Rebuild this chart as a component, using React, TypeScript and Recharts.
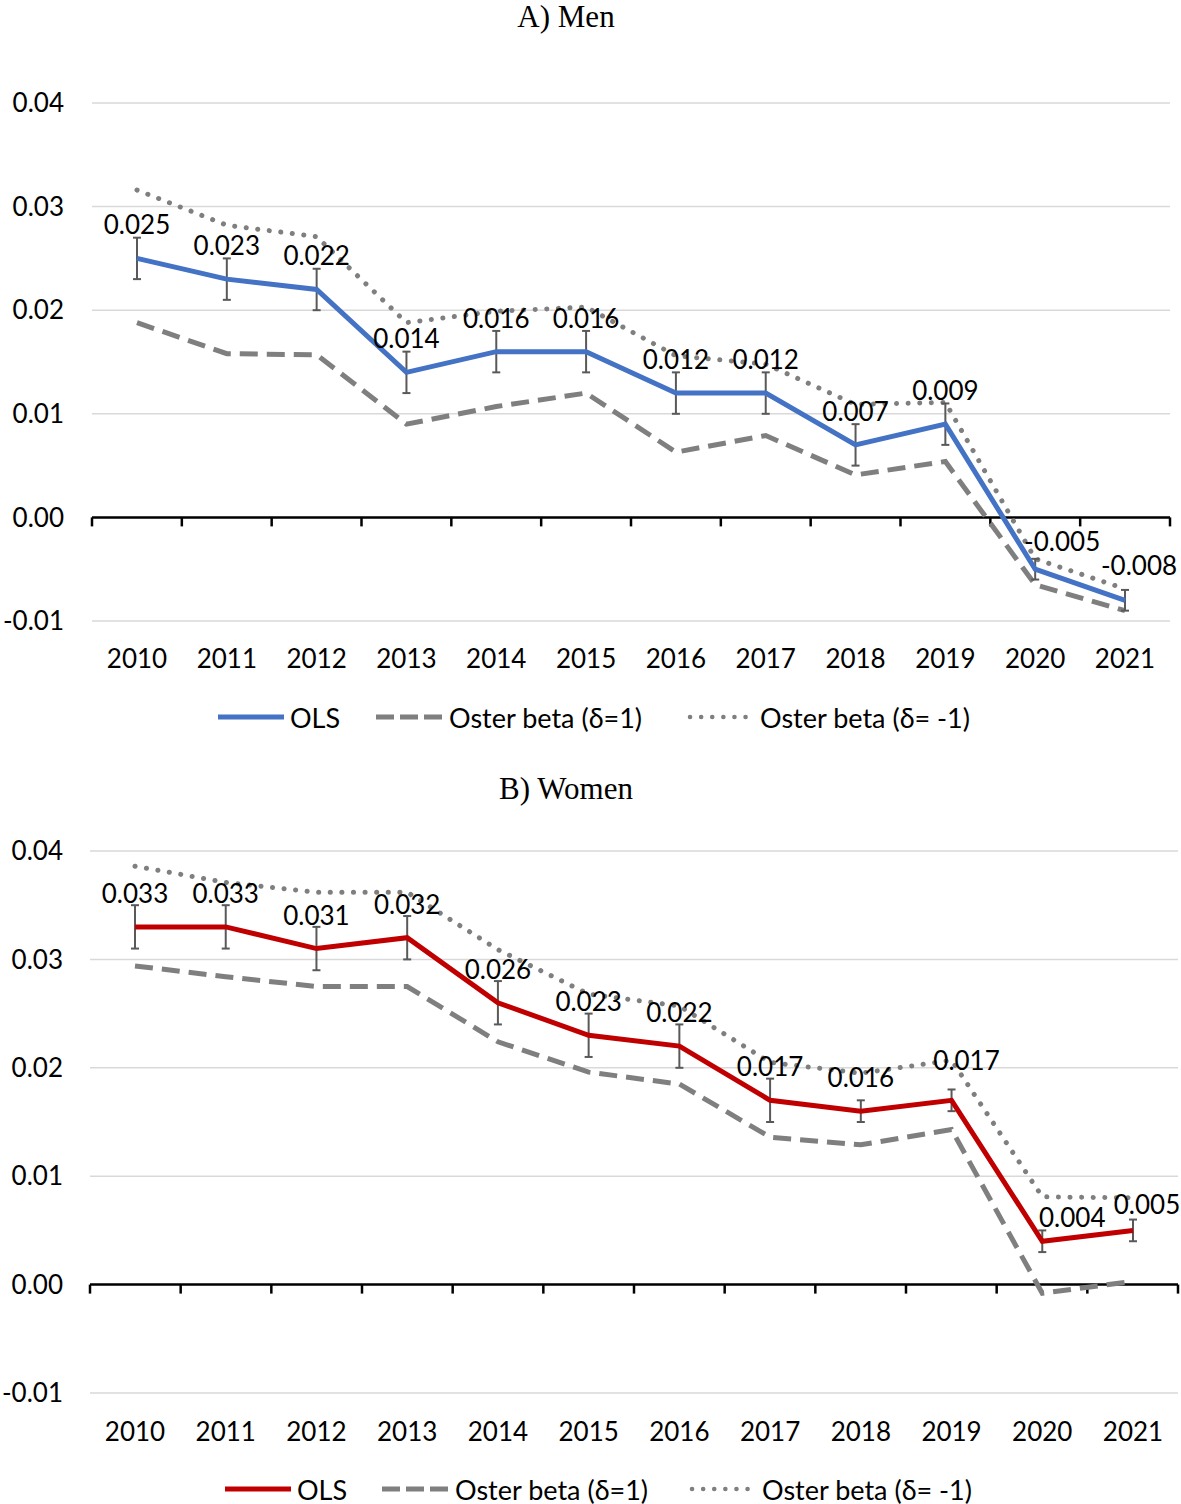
import {
  CartesianGrid,
  ErrorBar,
  LabelList,
  Line,
  LineChart,
  ReferenceLine,
  XAxis,
  YAxis,
} from 'recharts';

const years = ['2010', '2011', '2012', '2013', '2014', '2015', '2016', '2017', '2018', '2019', '2020', '2021'];
const yTicks = [-0.01, 0, 0.01, 0.02, 0.03, 0.04];

const menOls = [0.025, 0.023, 0.022, 0.014, 0.016, 0.016, 0.012, 0.012, 0.007, 0.009, -0.005, -0.008];
const menOlsErr = [0.002, 0.002, 0.002, 0.002, 0.002, 0.002, 0.002, 0.002, 0.002, 0.002, 0.001, 0.001];
const menOsterPos = [0.0188, 0.0158, 0.0157, 0.009, 0.0107, 0.012, 0.0063, 0.0079, 0.0041, 0.0054, -0.0065, -0.009];
const menOsterNeg = [0.0316, 0.0282, 0.0271, 0.0188, 0.0199, 0.0203, 0.0156, 0.0148, 0.0109, 0.0111, -0.004, -0.0069];

const womenOls = [0.033, 0.033, 0.031, 0.032, 0.026, 0.023, 0.022, 0.017, 0.016, 0.017, 0.004, 0.005];
const womenOlsErr = [0.002, 0.002, 0.002, 0.002, 0.002, 0.002, 0.002, 0.002, 0.001, 0.001, 0.001, 0.001];
const womenOsterPos = [0.0294, 0.0284, 0.0275, 0.0275, 0.0224, 0.0196, 0.0185, 0.0136, 0.0129, 0.0143, -0.0008, 0.0003];
const womenOsterNeg = [0.0386, 0.0371, 0.0362, 0.0362, 0.0309, 0.0268, 0.0257, 0.0205, 0.0195, 0.0207, 0.0081, 0.008];

const menData = years.map((year, i) => ({
  year,
  ols: menOls[i],
  olsErr: menOlsErr[i],
  osterPos: menOsterPos[i],
  osterNeg: menOsterNeg[i],
}));

const womenData = years.map((year, i) => ({
  year,
  ols: womenOls[i],
  olsErr: womenOlsErr[i],
  osterPos: womenOsterPos[i],
  osterNeg: womenOsterNeg[i],
}));

const FONT = 'Lato, "Open Sans", sans-serif';
const GREY = '#7f7f7f';

// label nudges (dx, dy) where the original labels were moved off the point
const menNudges: Record<number, [number, number]> = { 10: [27, 6], 11: [14, -1] };
const womenNudges: Record<number, [number, number]> = { 9: [15, -6], 10: [30, 10], 11: [14, 8] };

const makeLabel = (nudges: Record<number, [number, number]>) => (props: any) => {
  const { x, y, value, index } = props;
  const [dx, dy] = nudges[index] ?? [0, 0];
  return (
    <text x={x + dx} y={y - 24 + dy} textAnchor="middle" fontFamily={FONT} fontSize={26} fill="#000">
      {Number(value).toFixed(3)}
    </text>
  );
};

const ZeroAxis = (props: any) => {
  const { x1, x2, y1 } = props;
  const step = (x2 - x1) / years.length;
  return (
    <g>
      <line x1={x1} x2={x2} y1={y1} y2={y1} stroke="#000" strokeWidth={2.5} />
      {Array.from({ length: years.length + 1 }, (_, i) => (
        <line key={i} x1={x1 + i * step} x2={x1 + i * step} y1={y1} y2={y1 + 9} stroke="#000" strokeWidth={2.5} />
      ))}
    </g>
  );
};

type PanelProps = {
  title: string;
  data: typeof menData;
  color: string;
  top: number;
  height: number;
  margin: { top: number; right: number; left: number; bottom: number };
  yWidth: number;
  yTickMargin: number;
  xTickMargin: number;
  xPad: number;
  nudges: Record<number, [number, number]>;
  legendY: number;
  legendX: [number, number, number];
};

function Legend({ color, y, xs }: { color: string; y: number; xs: [number, number, number] }) {
  const len = 66;
  return (
    <svg width={1181} height={40} style={{ position: 'absolute', left: 0, top: y - 20 }}>
      <line x1={xs[0]} x2={xs[0] + len} y1={20} y2={20} stroke={color} strokeWidth={5} />
      <text x={xs[0] + len + 6} y={20} dominantBaseline="central" fontFamily={FONT} fontSize={27} fill="#000">
        OLS
      </text>
      <line x1={xs[1]} x2={xs[1] + len} y1={20} y2={20} stroke={GREY} strokeWidth={5} strokeDasharray="18 6" />
      <text x={xs[1] + len + 7} y={20} dominantBaseline="central" fontFamily={FONT} fontSize={27} fill="#000">
        Oster beta (δ=1)
      </text>
      <line
        x1={xs[2] + 2}
        x2={xs[2] + len}
        y1={20}
        y2={20}
        stroke={GREY}
        strokeWidth={4.5}
        strokeLinecap="round"
        strokeDasharray="0.1 11"
      />
      <text x={xs[2] + len + 6} y={20} dominantBaseline="central" fontFamily={FONT} fontSize={27} fill="#000">
        Oster beta (δ= -1)
      </text>
    </svg>
  );
}

function Panel(p: PanelProps) {
  return (
    <div style={{ position: 'absolute', left: 0, top: p.top, width: 1181, height: p.height }}>
      <div
        style={{
          position: 'absolute',
          left: 366,
          width: 400,
          top: p.top === 0 ? -1 : 1,
          textAlign: 'center',
          fontFamily: '"Liberation Serif", serif',
          fontSize: 31,
          lineHeight: '36px',
          color: '#000',
        }}
      >
        {p.title}
      </div>
      <LineChart width={1181} height={p.height} data={p.data} margin={p.margin}>
        <CartesianGrid vertical={false} stroke="#d9d9d9" strokeWidth={1.5} />
        <XAxis
          dataKey="year"
          axisLine={false}
          tickLine={false}
          height={60}
          padding={{ left: p.xPad, right: p.xPad }}
          tickMargin={p.xTickMargin}
          tick={{ fontFamily: FONT, fontSize: 26, fill: '#000' }}
          interval={0}
        />
        <YAxis
          domain={[-0.01, 0.04]}
          ticks={yTicks}
          width={p.yWidth}
          axisLine={false}
          tickLine={false}
          tickMargin={p.yTickMargin}
          tickFormatter={(v: number) => v.toFixed(2)}
          tick={{ fontFamily: FONT, fontSize: 26, fill: '#000' }}
          allowDataOverflow
        />
        <ReferenceLine y={0} shape={ZeroAxis} />
        <Line
          dataKey="osterPos"
          stroke={GREY}
          strokeWidth={5}
          strokeDasharray="18 9"
          dot={false}
          isAnimationActive={false}
        />
        <Line
          dataKey="osterNeg"
          stroke={GREY}
          strokeWidth={5}
          strokeLinecap="round"
          strokeDasharray="0.1 11.5"
          dot={false}
          isAnimationActive={false}
        />
        <Line dataKey="ols" stroke={p.color} strokeWidth={5} dot={false} isAnimationActive={false}>
          <ErrorBar dataKey="olsErr" direction="y" width={4} stroke="#595959" strokeWidth={2} isAnimationActive={false} />
          <LabelList dataKey="ols" content={makeLabel(p.nudges)} />
        </Line>
      </LineChart>
      <Legend color={p.color} y={p.legendY - p.top} xs={p.legendX} />
    </div>
  );
}

export default function App() {
  return (
    <div style={{ position: 'absolute', left: 0, top: 0, width: 1181, height: 1504, background: '#fff' }}>
      <Panel
        title="A) Men"
        data={menData}
        color="#4472c4"
        top={0}
        height={770}
        margin={{ top: 103, right: 11, left: 0, bottom: 89 }}
        yWidth={92}
        yTickMargin={22}
        xTickMargin={23}
        xPad={45}
        nudges={menNudges}
        legendY={717}
        legendX={[218, 376, 688]}
      />
      <Panel
        title="B) Women"
        data={womenData}
        color="#c00000"
        top={770}
        height={734}
        margin={{ top: 81, right: 3, left: 0, bottom: 51 }}
        yWidth={90}
        yTickMargin={21}
        xTickMargin={24}
        xPad={45}
        nudges={womenNudges}
        legendY={1489}
        legendX={[225, 382, 690]}
      />
    </div>
  );
}
